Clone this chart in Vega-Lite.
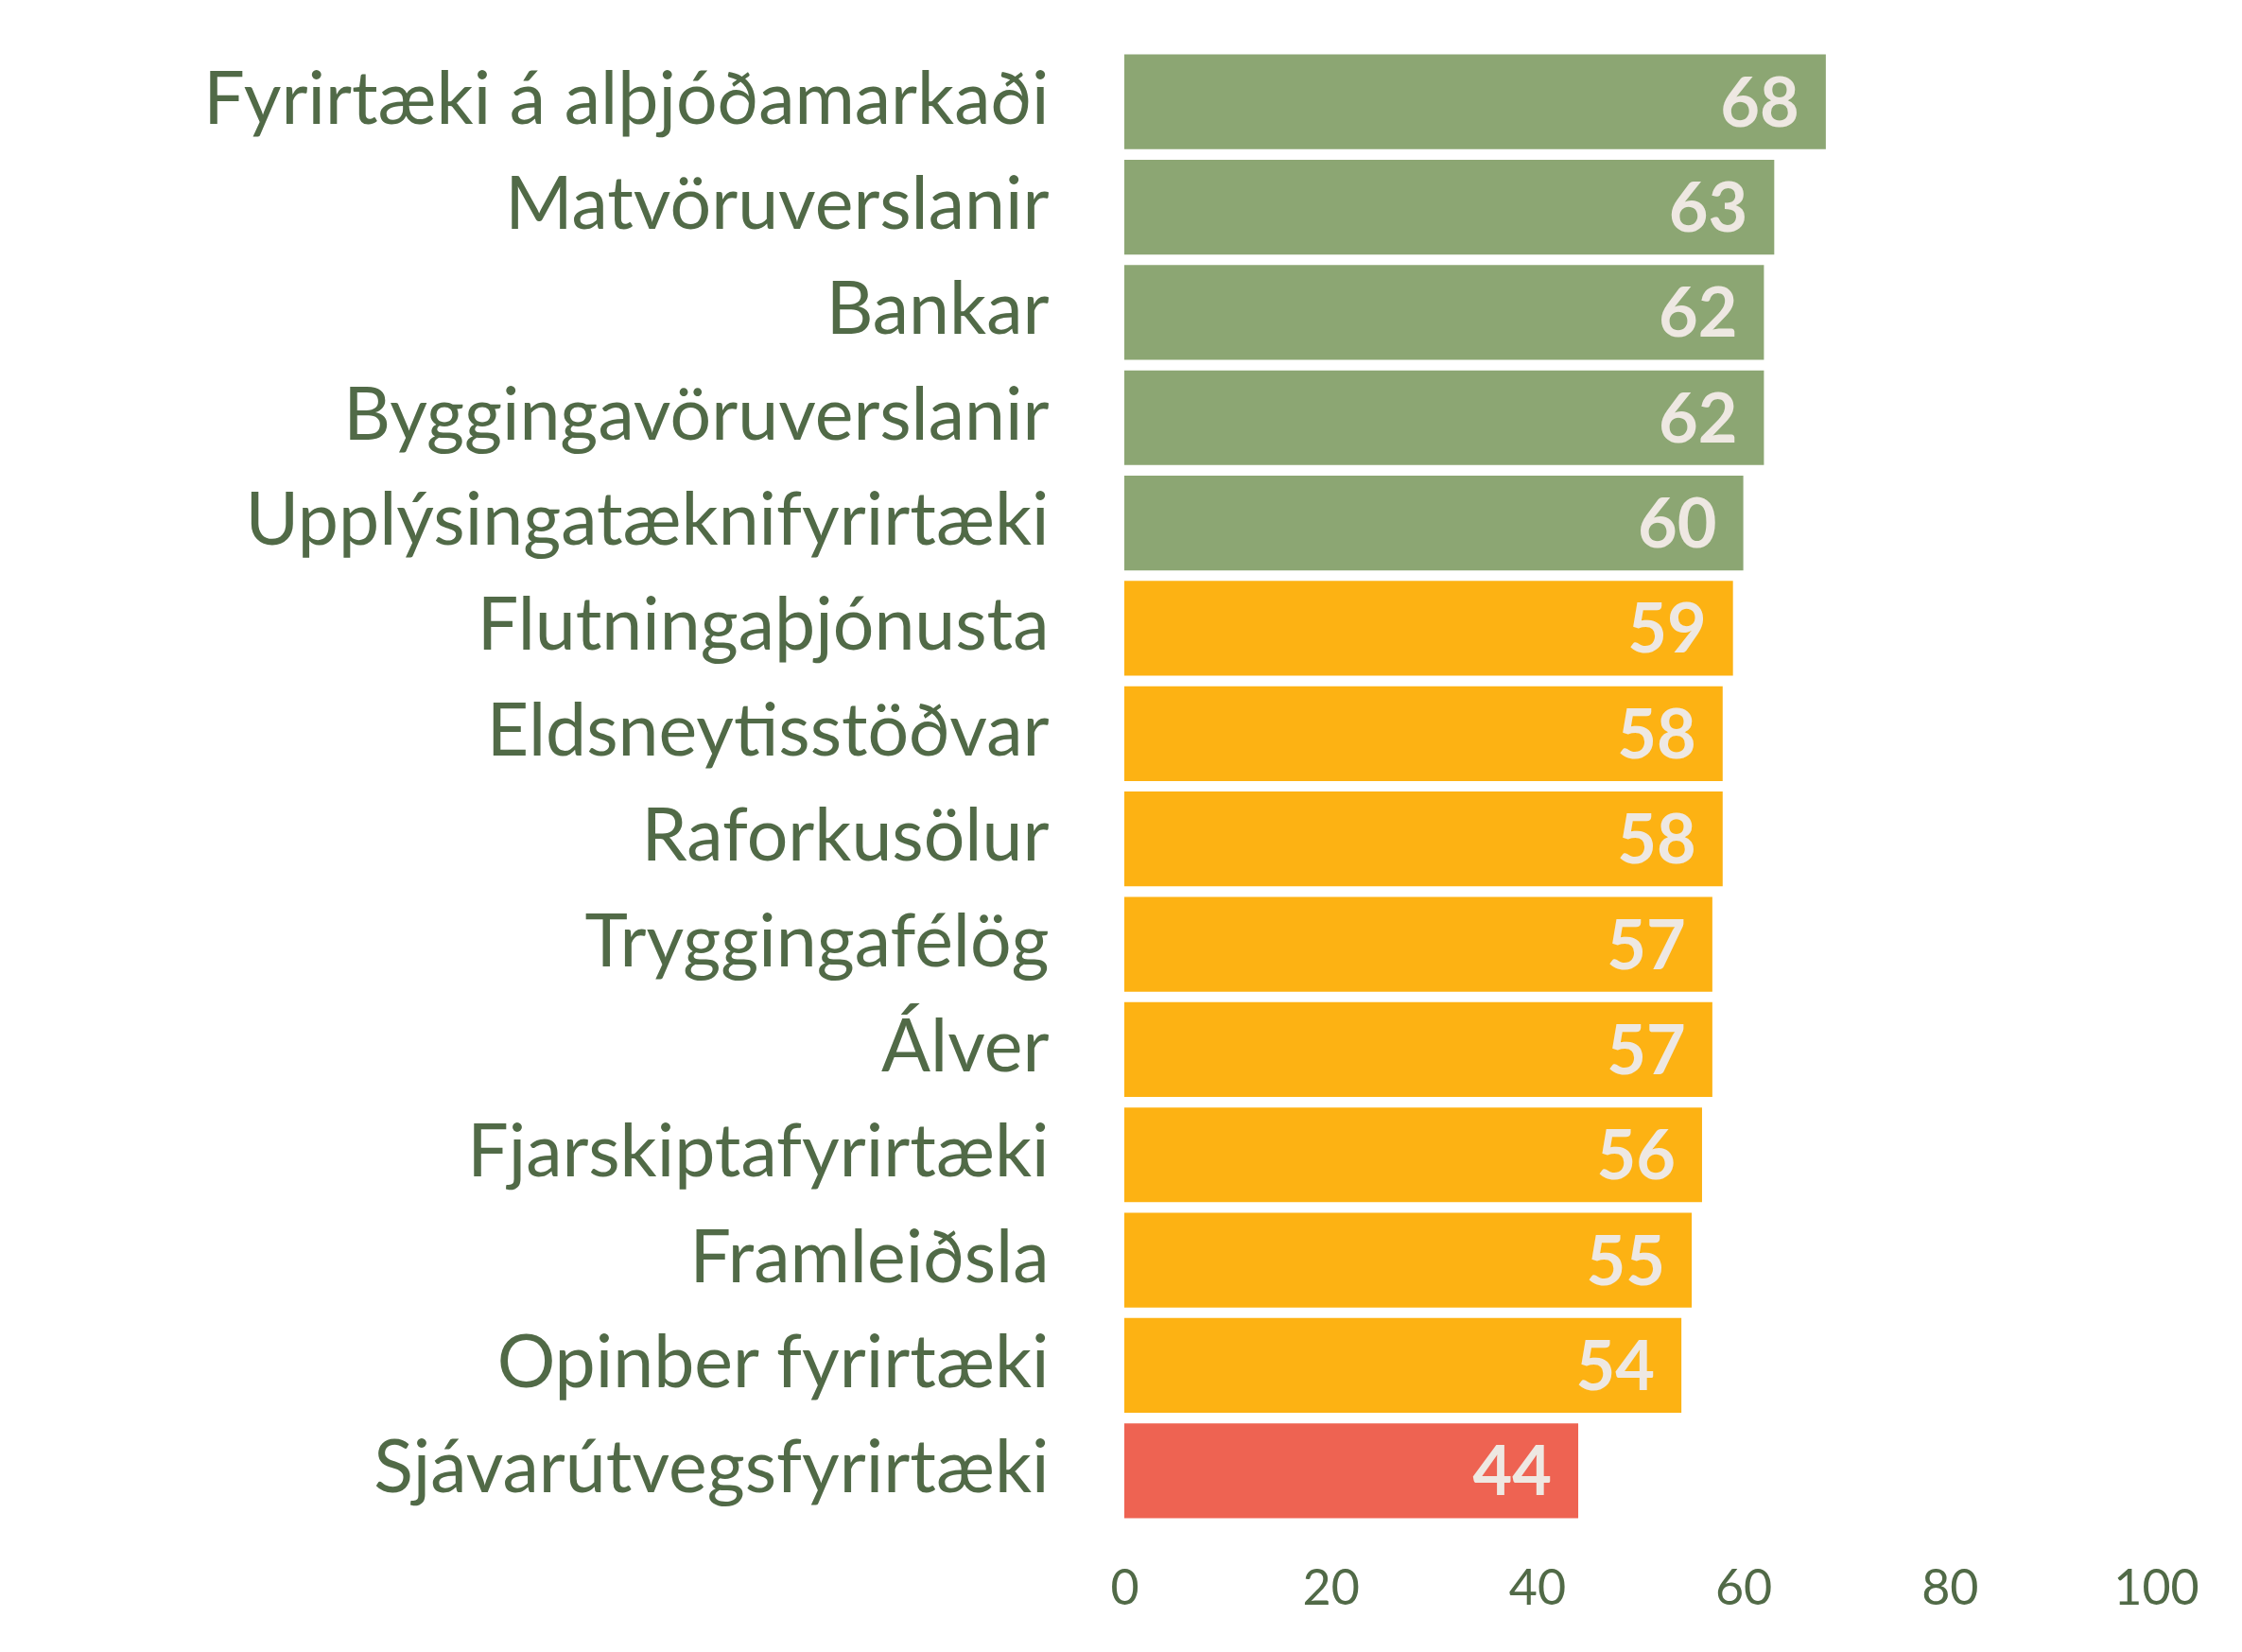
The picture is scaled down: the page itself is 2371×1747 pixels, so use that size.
{
  "$schema": "https://vega.github.io/schema/vega-lite/v6.json",
  "width": 1091,
  "height": 1559,
  "autosize": "none",
  "padding": {"left": 1189, "top": 52, "right": 91, "bottom": 136},
  "background": "white",
  "data": {
    "values": [
      {"flokkur": "Fyrirtæki á alþjóðamarkaði", "gildi": 68, "hopur": "hátt"},
      {"flokkur": "Matvöruverslanir", "gildi": 63, "hopur": "hátt"},
      {"flokkur": "Bankar", "gildi": 62, "hopur": "hátt"},
      {"flokkur": "Byggingavöruverslanir", "gildi": 62, "hopur": "hátt"},
      {"flokkur": "Upplýsingatæknifyrirtæki", "gildi": 60, "hopur": "hátt"},
      {"flokkur": "Flutningaþjónusta", "gildi": 59, "hopur": "miðja"},
      {"flokkur": "Eldsneytisstöðvar", "gildi": 58, "hopur": "miðja"},
      {"flokkur": "Raforkusölur", "gildi": 58, "hopur": "miðja"},
      {"flokkur": "Tryggingafélög", "gildi": 57, "hopur": "miðja"},
      {"flokkur": "Álver", "gildi": 57, "hopur": "miðja"},
      {"flokkur": "Fjarskiptafyrirtæki", "gildi": 56, "hopur": "miðja"},
      {"flokkur": "Framleiðsla", "gildi": 55, "hopur": "miðja"},
      {"flokkur": "Opinber fyrirtæki", "gildi": 54, "hopur": "miðja"},
      {"flokkur": "Sjávarútvegsfyrirtæki", "gildi": 44, "hopur": "lágt"}
    ]
  },
  "encoding": {
    "y": {
      "field": "flokkur",
      "type": "nominal",
      "sort": null,
      "scale": {"paddingInner": 0.1, "paddingOuter": 0.05},
      "axis": {
        "title": null,
        "domain": false,
        "ticks": false,
        "labelPadding": 80,
        "labelFont": "Lato",
        "labelFontSize": 77,
        "labelColor": "#516A47",
        "labelLimit": 1200
      }
    },
    "x": {
      "field": "gildi",
      "type": "quantitative",
      "scale": {"domain": [0, 100]},
      "axis": {
        "title": null,
        "domain": false,
        "ticks": false,
        "grid": false,
        "labelFlush": false,
        "labelOverlap": false,
        "values": [0, 20, 40, 60, 80, 100],
        "labelPadding": 44,
        "labelFont": "Lato",
        "labelFontSize": 52,
        "labelColor": "#516A47"
      }
    }
  },
  "layer": [
    {
      "mark": {"type": "bar"},
      "encoding": {
        "color": {
          "field": "hopur",
          "type": "nominal",
          "legend": null,
          "scale": {
            "domain": ["hátt", "miðja", "lágt"],
            "range": ["#8CA673", "#FDB213", "#EE6352"]
          }
        }
      }
    },
    {
      "mark": {
        "type": "text",
        "align": "right",
        "baseline": "middle",
        "dx": -28,
        "dy": 4,
        "font": "Lato",
        "fontWeight": "bold",
        "fontSize": 72,
        "color": "#EEE8E2"
      },
      "encoding": {
        "text": {"field": "gildi", "type": "quantitative"}
      }
    }
  ],
  "config": {"view": {"stroke": null}}
}
